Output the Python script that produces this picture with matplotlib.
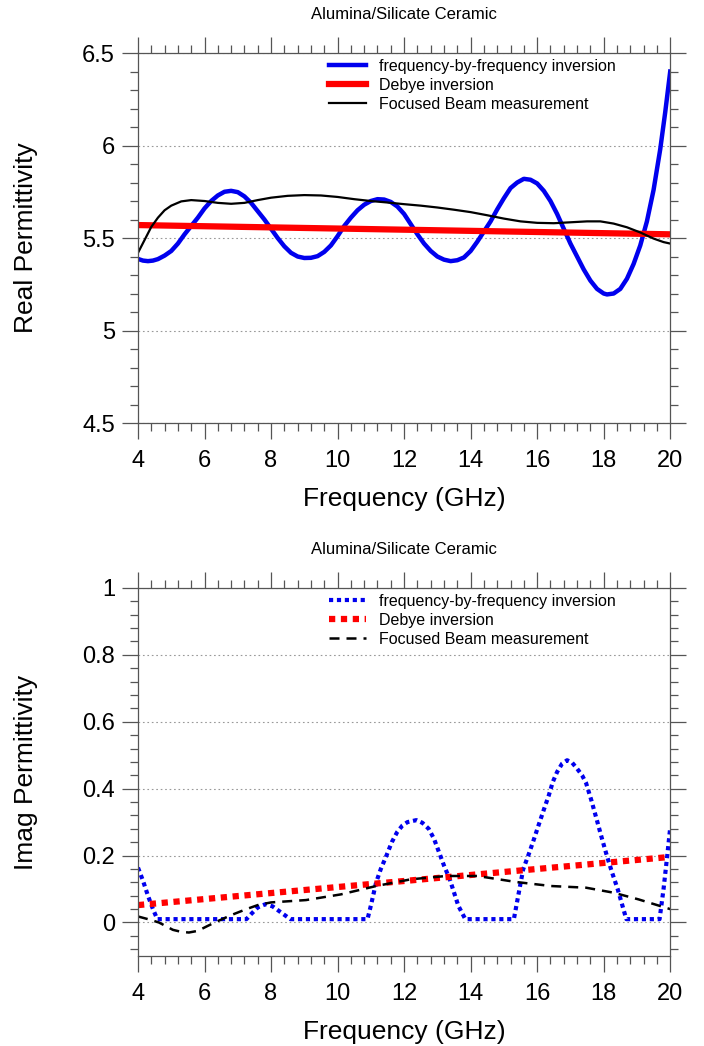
import matplotlib
matplotlib.use("Agg")
import matplotlib.pyplot as plt
from matplotlib.ticker import MultipleLocator

plt.rcParams['font.family'] = ['Liberation Sans', 'DejaVu Sans']

title = "Alumina/Silicate Ceramic"
labels = ["frequency-by-frequency inversion", "Debye inversion", "Focused Beam measurement"]

# real part, frequency-by-frequency inversion
f_real_fbf = [4.0, 4.15, 4.3, 4.45, 4.6, 4.8, 5.0, 5.2, 5.4, 5.6, 5.8, 6.0, 6.2, 6.4, 6.6,
              6.8, 7.0, 7.2, 7.4, 7.6, 7.8, 8.0, 8.2, 8.4, 8.6, 8.8, 9.0, 9.2, 9.4, 9.6,
              9.8, 10.0, 10.2, 10.4, 10.6, 10.8, 11.0, 11.2, 11.4, 11.6, 11.8, 12.0, 12.2,
              12.4, 12.6, 12.8, 13.0, 13.2, 13.4, 13.6, 13.8, 14.0, 14.2, 14.4, 14.6, 14.8,
              15.0, 15.2, 15.4, 15.6, 15.8, 16.0, 16.2, 16.4, 16.6, 16.8, 17.0, 17.2, 17.4,
              17.6, 17.8, 18.0, 18.1, 18.3, 18.5, 18.7, 18.9, 19.1, 19.3, 19.5, 19.7, 19.85,
              20.0]
real_fbf = [5.387, 5.378, 5.375, 5.378, 5.386, 5.405, 5.43, 5.47, 5.52, 5.565, 5.61, 5.66,
            5.70, 5.73, 5.75, 5.755, 5.748, 5.725, 5.69, 5.645, 5.60, 5.55, 5.50, 5.455,
            5.42, 5.40, 5.392, 5.393, 5.402, 5.425, 5.46, 5.51, 5.565, 5.61, 5.65, 5.68,
            5.70, 5.71, 5.708, 5.695, 5.67, 5.63, 5.575, 5.52, 5.47, 5.43, 5.40, 5.383,
            5.375, 5.38, 5.395, 5.43, 5.48, 5.535, 5.59, 5.655, 5.715, 5.77, 5.80, 5.82,
            5.815, 5.795, 5.755, 5.70, 5.63, 5.55, 5.47, 5.40, 5.33, 5.27, 5.225, 5.20,
            5.195, 5.20, 5.225, 5.28, 5.36, 5.46, 5.59, 5.76, 5.98, 6.18, 6.40]

# real part, Debye inversion
f_real_debye = [4.0, 12.0, 20.0]
real_debye = [5.57, 5.545, 5.52]

# real part, focused beam
f_real_fb = [4.0, 4.2, 4.4, 4.6, 4.8, 5.0, 5.3, 5.6, 6.0, 6.4, 6.8, 7.2, 7.6, 8.0, 8.5,
             9.0, 9.5, 10.0, 10.5, 11.0, 11.5, 12.0, 12.5, 13.0, 13.5, 14.0, 14.5, 15.0,
             15.5, 16.0, 16.5, 17.0, 17.5, 17.9, 18.3, 18.7, 19.1, 19.5, 19.8, 20.0]
real_fb = [5.42, 5.49, 5.56, 5.61, 5.65, 5.675, 5.698, 5.705, 5.70, 5.69, 5.685, 5.69,
           5.705, 5.718, 5.728, 5.732, 5.73, 5.722, 5.71, 5.70, 5.692, 5.683, 5.675, 5.665,
           5.653, 5.64, 5.623, 5.605, 5.59, 5.582, 5.58, 5.585, 5.59, 5.59, 5.578, 5.558,
           5.53, 5.497, 5.478, 5.47]

# imaginary part, frequency-by-frequency inversion
f_imag_fbf = [4.0, 4.15, 4.3, 4.45, 4.58, 5.5, 6.5, 7.26, 7.4, 7.6, 7.84, 8.05, 8.3, 8.58,
              9.5, 10.9, 11.0, 11.16, 11.3, 11.47, 11.63, 11.79, 11.95, 12.1, 12.37, 12.55,
              12.74, 12.9, 13.05, 13.2, 13.37, 13.5, 13.63, 13.84, 14.5, 15.3, 15.45, 15.58,
              15.75, 15.9, 16.05, 16.2, 16.35, 16.47, 16.6, 16.75, 16.9, 17.05, 17.2, 17.35,
              17.47, 17.63, 17.79, 17.95, 18.1, 18.25, 18.42, 18.55, 18.68, 19.2, 19.68,
              19.8, 19.9, 20.0]
imag_fbf = [0.164, 0.125, 0.08, 0.04, 0.01, 0.01, 0.01, 0.01, 0.025, 0.045, 0.055, 0.048,
            0.03, 0.01, 0.01, 0.01, 0.05, 0.12, 0.16, 0.20, 0.24, 0.27, 0.29, 0.30, 0.306,
            0.298, 0.28, 0.25, 0.21, 0.17, 0.13, 0.09, 0.05, 0.01, 0.01, 0.01, 0.09, 0.159,
            0.205, 0.248, 0.293, 0.337, 0.38, 0.42, 0.45, 0.475, 0.485, 0.478, 0.46, 0.44,
            0.417, 0.365, 0.308, 0.25, 0.198, 0.15, 0.10, 0.055, 0.01, 0.01, 0.01, 0.10,
            0.19, 0.283]

# imaginary part, Debye inversion
f_imag_debye = [4.0, 12.0, 20.0]
imag_debye = [0.052, 0.124, 0.196]

# imaginary part, focused beam
f_imag_fb = [4.0, 4.3, 4.63, 5.05, 5.3, 5.53, 5.8, 6.1, 6.42, 6.8, 7.26, 7.6, 8.0, 9.05,
             10.1, 11.16, 12.2, 13.26, 14.2, 15.37, 16.42, 17.47, 18.3, 19.05, 20.0]
imag_fb = [0.018, 0.01, 0.0, -0.022, -0.028, -0.03, -0.025, -0.01, 0.005, 0.022, 0.04,
           0.052, 0.06, 0.067, 0.084, 0.109, 0.129, 0.139, 0.139, 0.121, 0.109, 0.104,
           0.089, 0.069, 0.04]

axis_col = '#555555'

fig = plt.figure(figsize=(7.04, 10.46), dpi=100)
ax1 = fig.add_axes([0.196, 0.5956, 0.756, 0.3537])
ax2 = fig.add_axes([0.196, 0.0861, 0.756, 0.3518])

ax1.plot(f_real_fbf, real_fbf, color='#0000ee', lw=3.2, label=labels[0])
ax1.plot(f_real_debye, real_debye, color='#ff0000', lw=4.5, label=labels[1])
ax1.plot(f_real_fb, real_fb, color='black', lw=1.6, label=labels[2])

ax2.plot(f_imag_fbf, imag_fbf, color='#0000ee', lw=3.0, dashes=(1.0, 0.9), label=labels[0])
ax2.plot(f_imag_debye, imag_debye, color='#ff0000', lw=4.5, dashes=(1.0, 0.9), label=labels[1])
ax2.plot(f_imag_fb, imag_fb, color='black', lw=1.8, dashes=(4, 2.8), label=labels[2])

ax1.set_ylim(4.5, 6.5)
ax1.yaxis.set_minor_locator(MultipleLocator(0.1))
ax1.set_yticks([4.5, 5, 5.5, 6, 6.5], ['4.5', '5', '5.5', '6', '6.5'])
ax1.set_ylabel("Real Permittivity")

ax2.set_ylim(-0.1, 1.0)
ax2.set_yticks([0, 0.2, 0.4, 0.6, 0.8, 1.0], ['0', '0.2', '0.4', '0.6', '0.8', '1'])
ax2.yaxis.set_minor_locator(MultipleLocator(0.04))
ax2.set_ylabel("Imag Permittivity")

for ax in (ax1, ax2):
    ax.set_xlim(4, 20)
    ax.xaxis.set_major_locator(MultipleLocator(2))
    ax.xaxis.set_minor_locator(MultipleLocator(0.4))
    ax.set_xlabel("Frequency (GHz)", fontsize=19)
    ax.yaxis.label.set_fontsize(19)
    ax.tick_params(which='both', direction='out', top=True, right=True, color=axis_col,
                   width=0.9, labelsize=17)
    ax.tick_params(which='major', length=11.5)
    ax.tick_params(which='minor', length=5.5)
    ax.tick_params(axis='x', which='major', pad=8)
    ax.tick_params(axis='y', which='major', pad=5)
    for s in ax.spines.values():
        s.set_color(axis_col)
        s.set_linewidth(0.9)
    ax.set_axisbelow(True)
    ax.yaxis.grid(True, which='major', linestyle=(0, (1.5, 2.5)), color='#999999', lw=0.8)
    ax.text(0.5, 1.105, title, transform=ax.transAxes, ha='center', va='center', fontsize=12)
    ax.legend(loc='upper left', bbox_to_anchor=(0.338, 1.014), frameon=False, fontsize=11.5,
              handlelength=2.3, handletextpad=0.8, labelspacing=0.25, borderpad=0.2)
    ax.yaxis.set_label_coords(-0.188, 0.5)

ax1.xaxis.set_label_coords(0.5, -0.172)
ax2.xaxis.set_label_coords(0.5, -0.175)

fig.savefig("out.png", dpi=100)
